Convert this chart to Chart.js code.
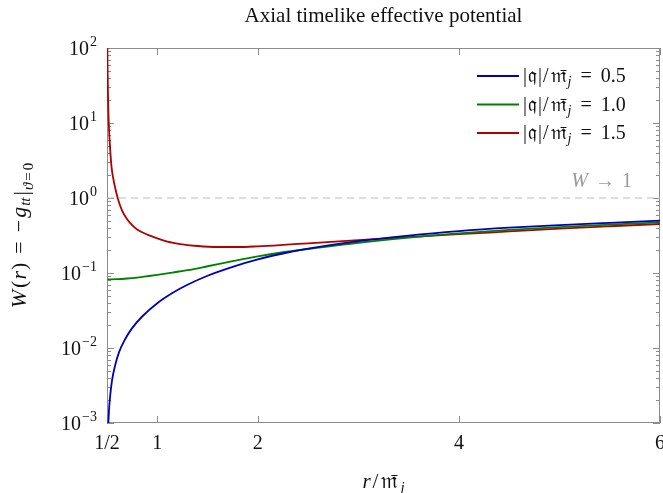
<!DOCTYPE html>
<html>
<head>
<meta charset="utf-8">
<script src="https://cdn.jsdelivr.net/npm/chart.js@4.4.1/dist/chart.umd.min.js"></script>
<style>
  html, body { margin: 0; padding: 0; background: #fff; }
  #wrap { width: 663px; height: 493px; }
</style>
</head>
<body>
<div id="wrap"><canvas id="chart"></canvas></div>
<script>
// text
const chartTitle = 'Axial timelike effective potential';
const limitLabel = 'W → 1';

// ticks
const xTicks = [0.5, 1, 2, 4, 6];
const xTickLabels = ['1/2', '1', '2', '4', '6'];
const yMajor = [1e-3, 1e-2, 1e-1, 1, 10, 100];
const yTickBase = '10';
const yTickExp = ['−3', '−2', '−1', '0', '1', '2'];

// series
const seriesValues = ['0.5', '1.0', '1.5'];
const seriesColors = ['#0000b8', '#008000', '#b00000'];

const rBlue = [0.513, 0.52, 0.53, 0.55, 0.58, 0.62, 0.68, 0.75, 0.85, 1.0, 1.15, 1.3, 1.5, 1.75, 2.0, 2.25, 2.5, 3.0, 3.5, 4.0, 4.5, 5.0, 5.5, 6.0];
const wBlue = [0.00098, 0.0015, 0.0022, 0.0037, 0.0058, 0.0088, 0.0131, 0.0184, 0.0263, 0.0395, 0.054, 0.0696, 0.092, 0.121, 0.152, 0.182, 0.211, 0.266, 0.316, 0.362, 0.402, 0.436, 0.467, 0.498];

const rGreen = [0.505, 0.6, 0.7, 0.8, 0.9, 1.0, 1.15, 1.3, 1.5, 1.75, 2.0, 2.25, 2.5, 3.0, 3.5, 4.0, 4.5, 5.0, 5.5, 6.0];
const wGreen = [0.0822, 0.0828, 0.0845, 0.087, 0.0905, 0.0945, 0.1015, 0.109, 0.123, 0.144, 0.167, 0.189, 0.209, 0.253, 0.297, 0.338, 0.375, 0.41, 0.442, 0.472];

const rRed = [0.5035, 0.505, 0.51, 0.515, 0.52, 0.53, 0.545, 0.563, 0.585, 0.612, 0.65, 0.7, 0.75, 0.8, 0.9, 1.0, 1.1, 1.25, 1.4, 1.6, 1.8, 2.0, 2.25, 2.5, 3.0, 3.5, 4.0, 4.5, 5.0, 5.5, 6.0];
const wRed = [100, 64, 23, 12.5, 8.4, 4.8, 2.6, 1.8, 1.3, 0.94, 0.68, 0.52, 0.435, 0.38, 0.325, 0.29, 0.262, 0.241, 0.229, 0.222, 0.222, 0.227, 0.237, 0.249, 0.274, 0.301, 0.329, 0.358, 0.39, 0.42, 0.45];

const limitR = [0.5, 6];
const limitW = [1, 1];

const SERIF = "'Liberation Serif', 'DejaVu Serif', serif";
const AXIS_GRAY = '#8c8c8c';
const INK = '#111';

function pts(xs, ys) {
    return xs.map((x, i) => ({ x: x, y: ys[i] }));
}

// draw a run of text pieces [text, size, italic, dy, gapAfter]
function drawRuns(ctx, parts, x, y, align) {
    const fontOf = p => (p[2] ? 'italic ' : '') + p[1] + 'px ' + SERIF;
    let w = 0;
    parts.forEach(p => { ctx.font = fontOf(p); w += ctx.measureText(p[0]).width + (p[4] || 0); });
    let cx = align === 'center' ? x - w / 2 : align === 'right' ? x - w : x;
    ctx.textAlign = 'left';
    parts.forEach(p => {
        ctx.font = fontOf(p);
        ctx.fillText(p[0], cx, y + (p[3] || 0));
        cx += ctx.measureText(p[0]).width + (p[4] || 0);
    });
}

// frame with inward ticks, like pgfplots
const framePlugin = {
    id: 'frame',
    beforeDatasetsDraw(chart) {
        const { ctx, chartArea: a, scales: { x, y } } = chart;
        ctx.save();
        ctx.strokeStyle = AXIS_GRAY;
        ctx.lineWidth = 1;
        ctx.strokeRect(a.left + 0.5, a.top + 0.5, a.right - a.left - 1, a.bottom - a.top - 1);
        ctx.beginPath();
        xTicks.forEach(v => {
            const px = Math.round(x.getPixelForValue(v)) + 0.5;
            ctx.moveTo(px, a.bottom); ctx.lineTo(px, a.bottom - 7);
            ctx.moveTo(px, a.top); ctx.lineTo(px, a.top + 7);
        });
        for (let e = -3; e < 2; e++) {
            for (let m = 1; m < 10; m++) {
                const py = Math.round(y.getPixelForValue(m * Math.pow(10, e))) + 0.5;
                const len = m === 1 ? 7 : 4;
                ctx.moveTo(a.left, py); ctx.lineTo(a.left + len, py);
                ctx.moveTo(a.right, py); ctx.lineTo(a.right - len, py);
            }
        }
        const ptop = Math.round(y.getPixelForValue(100)) + 0.5;
        ctx.moveTo(a.left, ptop); ctx.lineTo(a.left + 7, ptop);
        ctx.moveTo(a.right, ptop); ctx.lineTo(a.right - 7, ptop);
        ctx.stroke();
        ctx.restore();
    },
    afterDraw(chart) {
        const { ctx, chartArea: a, scales: { x, y } } = chart;
        ctx.save();
        ctx.fillStyle = INK;
        ctx.textBaseline = 'alphabetic';

        // title
        ctx.font = '21px ' + SERIF;
        ctx.textAlign = 'center';
        ctx.fillText(chartTitle, (a.left + a.right) / 2, 22);

        // y tick labels 10^n
        yMajor.forEach((v, i) => {
            const py = y.getPixelForValue(v);
            drawRuns(ctx, [[yTickBase, 20, false, 0, 1], [yTickExp[i], 14, false, -9]], 97, py + 7, 'right');
        });

        // x axis title r / m_j
        drawRuns(ctx, [['r', 21, true, 0, 2], ['/', 21, false, 0, 3], ['𝔪̄', 22, false, 0, 2], ['j', 15, true, 4]], (a.left + a.right) / 2, 488, 'center');

        // y axis title, rotated
        ctx.save();
        ctx.translate(26, (a.top + a.bottom) / 2);
        ctx.rotate(-Math.PI / 2);
        drawRuns(ctx, [
            ['W', 22, true, 0, 2], ['(', 22, false, 0, 1], ['r', 22, true, 0, 1], [')', 22, false, 0, 9], ['=', 22, false, 0, 9],
            ['−', 22, false, 0, 2], ['g', 22, true, 0, 1], ['tt', 15, true, 4, 2], ['|', 22, false, 2, 1],
            ['ϑ', 15, true, 7, 2], ['=', 15, false, 7, 2], ['0', 15, false, 7]
        ], 0, 0, 'center');
        ctx.restore();

        // W -> 1 label
        ctx.fillStyle = '#9a9a9a';
        drawRuns(ctx, [['W', 20, true, 0, 7], ['→', 20, false, 0, 7], ['1', 20, false, 0]], x.getPixelForValue(6) - 28, y.getPixelForValue(1) - 11, 'right');

        // legend
        chart.data.datasets.slice(0, 3).forEach((ds, i) => {
            const yy = a.top + 28 + i * 28.5;
            ctx.strokeStyle = ds.borderColor;
            ctx.lineWidth = 1.8;
            ctx.beginPath();
            ctx.moveTo(a.right - 183, yy); ctx.lineTo(a.right - 141, yy);
            ctx.stroke();
            ctx.fillStyle = INK;
            drawRuns(ctx, [
                ['|', 20, false, 0, 1], ['𝔮', 20, false, 0, 1], ['|', 20, false, 0, 1], ['/', 20, false, 0, 2],
                ['𝔪̄', 21, false, 0, 1], ['j', 14, true, 4, 9], ['=', 20, false, 0, 9], [seriesValues[i], 20, false, 0]
            ], a.right - 137, yy + 6, 'left');
        });
        ctx.restore();
    }
};

const datasets = [
    { label: seriesValues[0], data: pts(rBlue, wBlue), borderColor: seriesColors[0] },
    { label: seriesValues[1], data: pts(rGreen, wGreen), borderColor: seriesColors[1] },
    { label: seriesValues[2], data: pts(rRed, wRed), borderColor: seriesColors[2] },
    { label: 'limit', data: pts(limitR, limitW), borderColor: '#bdbdbd', borderDash: [7, 5], borderWidth: 1.2, cubicInterpolationMode: 'default', order: 10 }
].map(d => Object.assign({
    borderWidth: 1.8,
    pointRadius: 0,
    fill: false,
    cubicInterpolationMode: 'monotone'
}, d));

new Chart(document.getElementById('chart'), {
    type: 'line',
    data: { datasets: datasets },
    options: {
        responsive: true,
        maintainAspectRatio: false,
        animation: false,
        layout: { padding: { top: 48, right: 3, left: 0, bottom: 0 } },
        plugins: {
            legend: { display: false },
            tooltip: { enabled: false },
            title: { display: false }
        },
        scales: {
            x: {
                type: 'linear',
                min: 0.5,
                max: 6,
                grid: { display: false },
                border: { display: false },
                afterBuildTicks: s => { s.ticks = xTicks.map(v => ({ value: v })); },
                ticks: {
                    autoSkip: false,
                    maxRotation: 0,
                    padding: 1,
                    color: INK,
                    font: { family: SERIF, size: 20 },
                    callback: v => xTickLabels[xTicks.indexOf(v)]
                },
                afterFit: s => { s.height = 70; s.paddingLeft = 0; s.paddingRight = 0; }
            },
            y: {
                type: 'logarithmic',
                min: 1e-3,
                max: 100,
                grid: { display: false },
                border: { display: false },
                ticks: { display: false },
                afterFit: s => { s.width = 107; s.paddingTop = 0; s.paddingBottom = 0; }
            }
        }
    },
    plugins: [framePlugin]
});
</script>
</body>
</html>
